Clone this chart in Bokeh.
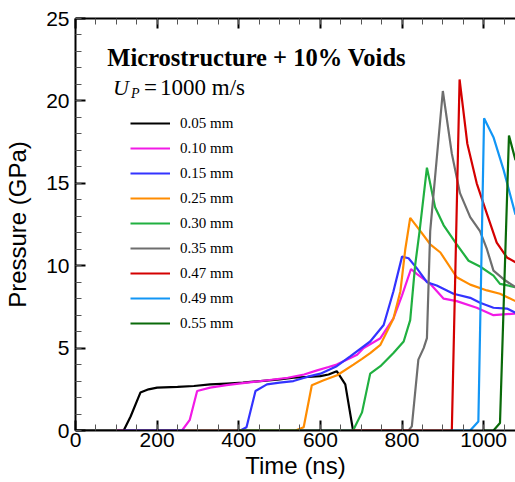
from bokeh.plotting import figure
from bokeh.models import Range1d, LinearAxis, SingleIntervalTicker, Label, CustomJSTickFormatter
from bokeh.embed import file_html
from bokeh.resources import INLINE

# ---------------- data ----------------
series_labels = ["0.05 mm", "0.10 mm", "0.15 mm", "0.25 mm", "0.30 mm",
                 "0.35 mm", "0.47 mm", "0.49 mm", "0.55 mm"]
series_colors = ["#000000", "#f21ae6", "#3333ff", "#ff8c00", "#20b040",
                 "#6e6e6e", "#d40000", "#1296f5", "#0a6a0a"]

t_005 = [0, 118, 135, 159, 179, 200, 250, 290, 330, 371, 410, 453, 500, 534, 570, 600, 620, 640, 661, 680]
p_005 = [0, 0, 0.85, 2.3, 2.5, 2.6, 2.65, 2.7, 2.8, 2.85, 2.9, 3.0, 3.1, 3.2, 3.25, 3.3, 3.4, 3.6, 2.8, 0]

t_010 = [100, 261, 280, 298, 330, 370, 420, 470, 520, 560, 592, 620, 640, 690, 706, 747, 779, 800, 822, 836, 869, 902, 934, 983, 1024, 1078]
p_010 = [0, 0, 0.65, 2.4, 2.6, 2.75, 2.9, 3.05, 3.2, 3.4, 3.65, 3.85, 4.0, 4.6, 5.0, 5.6, 6.8, 8.2, 9.8, 9.5, 8.9, 8.0, 7.85, 7.45, 7.0, 7.1]

t_015 = [120, 404, 419, 441, 469, 500, 534, 567, 600, 640, 673, 722, 755, 779, 800, 816, 836, 861, 885, 926, 967, 991, 1024, 1057, 1078]
p_015 = [0, 0, 0.2, 2.4, 2.8, 2.9, 3.0, 3.25, 3.45, 3.9, 4.5, 5.4, 6.4, 8.45, 10.55, 10.45, 9.85, 9.0, 8.8, 8.3, 8.05, 7.75, 7.45, 7.4, 7.15]

t_025 = [270, 539, 559, 579, 608, 641, 681, 702, 722, 747, 779, 796, 808, 820, 845, 869, 894, 934, 967, 1008, 1040, 1078]
p_025 = [0, 0, 0.2, 2.75, 3.05, 3.35, 4.0, 4.35, 4.7, 5.2, 6.8, 8.45, 11.0, 12.9, 12.1, 11.3, 10.8, 9.3, 8.85, 8.5, 8.3, 7.85]

t_030 = [400, 680, 702, 722, 747, 779, 804, 820, 832, 843, 861, 881, 902, 934, 963, 991, 1024, 1040, 1078]
p_030 = [0, 0, 1.1, 3.45, 3.9, 4.7, 5.4, 6.7, 10.0, 12.1, 15.95, 13.55, 12.45, 11.3, 10.3, 9.95, 9.4, 8.9, 8.7]

t_035 = [550, 816, 824, 840, 853, 861, 869, 900, 922, 942, 967, 991, 1008, 1024, 1053, 1078]
p_035 = [0, 0, 0.25, 4.3, 5.0, 5.6, 12.1, 20.6, 16.8, 14.4, 12.95, 12.1, 11.0, 9.7, 9.1, 8.7]

t_047 = [680, 922, 941, 960, 983, 1008, 1032, 1057, 1078]
p_047 = [0, 0, 21.3, 17.4, 15.0, 13.15, 11.4, 10.5, 10.2]

t_049 = [920, 967, 987, 1001, 1024, 1049, 1078]
p_049 = [0, 0, 0.55, 18.95, 17.8, 15.8, 13.1]

t_055 = [1000, 1024, 1040, 1062, 1078]
p_055 = [0, 0, 0.45, 17.9, 16.4]

series_t = [t_005, t_010, t_015, t_025, t_030, t_035, t_047, t_049, t_055]
series_p = [p_005, p_010, p_015, p_025, p_030, p_035, p_047, p_049, p_055]

# ---------------- figure ----------------
SANS = "Liberation Sans"
SERIF = "Liberation Serif"

p = figure(width=515, height=482, output_backend="svg", toolbar_location=None,
           x_range=Range1d(0, 1078), y_range=Range1d(0, 25),
           min_border_left=75, min_border_right=0, min_border_top=18,
           min_border_bottom=52)
p.outline_line_color = None
p.xgrid.visible = False
p.ygrid.visible = False
p.background_fill_color = "white"
p.border_fill_color = "white"

xt = SingleIntervalTicker(interval=200, num_minor_ticks=4)
yt = SingleIntervalTicker(interval=5, num_minor_ticks=5)


def style_axis(ax):
    ax.axis_line_width = 2
    ax.axis_line_color = "black"
    ax.major_tick_in = 10
    ax.major_tick_out = 0
    ax.minor_tick_in = 6
    ax.minor_tick_out = 0
    ax.major_tick_line_width = 2
    ax.minor_tick_line_width = 1
    ax.major_tick_line_color = "black"
    ax.minor_tick_line_color = "#555555"
    ax.major_label_text_font = SANS
    ax.major_label_text_font_size = "21px"
    ax.major_label_text_color = "black"
    ax.axis_label_text_font = SANS
    ax.axis_label_text_font_size = "24px"
    ax.axis_label_text_font_style = "normal"
    ax.axis_label_text_color = "black"


xa = p.xaxis[0]
xa.ticker = xt
style_axis(xa)
xa.major_label_standoff = 2
xa.axis_label = "Time (ns)"
xa.axis_label_standoff = 2

ya = p.yaxis[0]
ya.ticker = yt
style_axis(ya)
ya.major_label_standoff = 6
ya.axis_label = "Pressure (GPa)"
ya.axis_label_standoff = 12

top = LinearAxis(ticker=SingleIntervalTicker(interval=200, num_minor_ticks=4),
                 formatter=CustomJSTickFormatter(code="return ''"))
style_axis(top)
top.major_label_standoff = 0
p.add_layout(top, "above")

for tt, pp, lab, col in zip(series_t, series_p, series_labels, series_colors):
    p.line(tt, pp, line_color=col, line_width=2.2, legend_label=lab)

lg = p.legend[0]
lg.location = (55, 97)
lg.border_line_color = None
lg.background_fill_alpha = 0
lg.padding = 0
lg.margin = 0
lg.spacing = 5
lg.glyph_width = 40
lg.glyph_height = 20
lg.label_height = 20
lg.label_standoff = 10
lg.label_text_font = SERIF
lg.label_text_font_size = "15px"
lg.label_text_color = "black"

# annotations (title and velocity)
p.add_layout(Label(x=78, y=22.63, text="Microstructure + 10% Voids",
                   text_font=SERIF, text_font_style="bold", text_font_size="24.5px",
                   text_baseline="alphabetic", text_color="black"))
p.add_layout(Label(x=92, y=20.81, text="U", text_font=SERIF,
                   text_font_style="italic", text_font_size="22px",
                   text_baseline="alphabetic", text_color="black"))
p.add_layout(Label(x=136, y=20.45, text="P", text_font=SERIF,
                   text_font_style="italic", text_font_size="14px",
                   text_baseline="alphabetic", text_color="black"))
p.add_layout(Label(x=168, y=20.81, text="=", text_font=SERIF,
                   text_font_size="23px",
                   text_baseline="alphabetic", text_color="black"))
p.add_layout(Label(x=207, y=20.81, text="1000 m/s", text_font=SERIF,
                   text_font_size="23px",
                   text_baseline="alphabetic", text_color="black"))

open("out.html", "w").write(file_html(p, INLINE))
